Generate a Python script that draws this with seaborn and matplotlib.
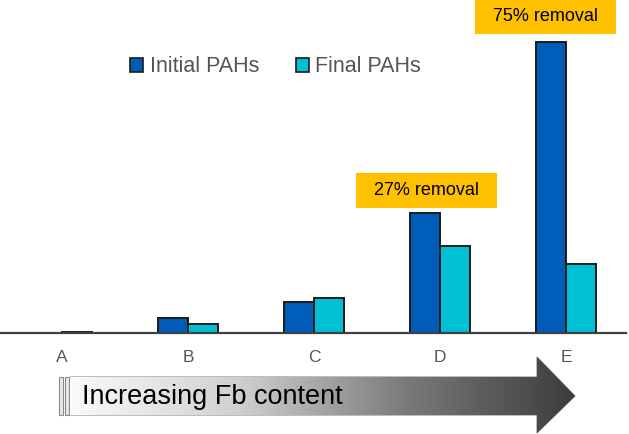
import matplotlib
matplotlib.use('Agg')
import matplotlib.pyplot as plt
import matplotlib.patches as mpatches
from matplotlib.colors import LinearSegmentedColormap
import numpy as np
import seaborn as sns
import pandas as pd

sns.set_style('white')
plt.rcParams['font.family'] = ['Liberation Sans', 'DejaVu Sans']

#-- data --
samples     = ['A', 'B', 'C', 'D', 'E']
initial     = [0.0, 15, 31, 120, 291]
final       = [0.6, 9, 35, 87, 69]
stages      = ['Initial PAHs', 'Final PAHs']
colors      = ['#005CB9', '#00C0D6']
notes       = [('D', '27% removal', 22.5, 0.107), ('E', '75% removal', 25.5, 0.159)]

df = pd.DataFrame({'sample': samples * 2,
                   'pahs'  : initial + final,
                   'stage' : [stages[0]] * 5 + [stages[1]] * 5})

W, H = 629, 434
fig = plt.figure(figsize=(W / 100, H / 100), dpi=100)
ax = fig.add_axes([0, (H - 333) / H, 626 / W, 333 / H])

sns.barplot(data=df, x='sample', y='pahs', hue='stage', palette=colors, width=0.476,
            edgecolor='#1a1a1a', linewidth=1.4, ax=ax, legend=False, saturation=1)

ax.set_xlim(-0.492, 4.476)
ax.set_ylim(0, 333)
ax.set_xlabel('')
ax.set_ylabel('')
ax.set_yticks([])
for s in ['top', 'left', 'right']:
    ax.spines[s].set_visible(False)
ax.spines['bottom'].set_color('#404040')
ax.spines['bottom'].set_linewidth(1.6)
ax.tick_params(axis='x', length=0, pad=12, labelsize=12.5, labelcolor='#555555')

handles = [mpatches.Patch(facecolor=c, edgecolor='#1a1a1a', linewidth=1.2) for c in colors]
fig.legend(handles, stages, loc='center', bbox_to_anchor=(0.438, 0.846), ncol=2, frameon=False,
           fontsize=15.5, handlelength=0.62, handleheight=0.62, handletextpad=0.3,
           columnspacing=1.7, labelcolor='#555555')

# removal labels above D and E (box 141 x 35 px)
xpos = {s: i for i, s in enumerate(samples)}
bw, bh = 141 / 126, 35
for key, txt, dy, dx in notes:
    i = xpos[key]
    cx, cy = i - dx, initial[i] + dy
    ax.add_patch(mpatches.Rectangle((cx - bw / 2, cy - bh / 2), bw, bh, facecolor='#FFC000',
                                    edgecolor='none', clip_on=False, zorder=4))
    ax.text(cx, cy, txt, ha='center', va='center', fontsize=13, color='black',
            clip_on=False, zorder=5)

# gradient arrow in pixel coordinates
ov = fig.add_axes([0, 0, 1, 1], zorder=3)
ov.set_xlim(0, W)
ov.set_ylim(H, 0)
ov.axis('off')
ov.patch.set_visible(False)

arrow_pts = [(70, 377), (537, 377), (537, 357), (575, 396), (537, 433), (537, 415), (70, 415)]
arrow = mpatches.Polygon(arrow_pts, closed=True, facecolor='none', edgecolor='#8a8a8a', linewidth=0.8)
ov.add_patch(arrow)
cmap = LinearSegmentedColormap.from_list('grey', ['#fafafa', '#d0d0d0', '#7a7a7a', '#3c3c3c'])
grad = np.linspace(0, 1, 256).reshape(1, -1)
im = ov.imshow(grad, cmap=cmap, extent=(70, 575, 433, 357), aspect='auto', zorder=2)
im.set_clip_path(arrow)
for x0 in [59, 65]:
    ov.add_patch(mpatches.Rectangle((x0, 377), 4, 38, facecolor='#e8e8e8', edgecolor='#8a8a8a', linewidth=0.8))
ov.text(82, 397, 'Increasing Fb content', fontsize=19.5, color='black', va='center', ha='left', zorder=4)

fig.savefig('out.png', dpi=100)
